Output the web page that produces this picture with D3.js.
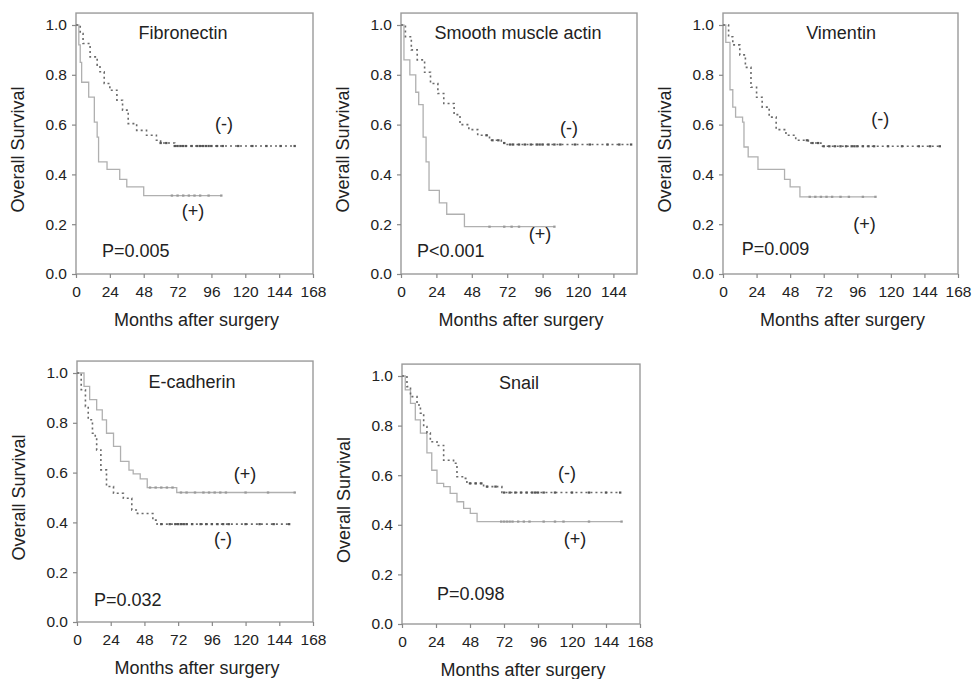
<!DOCTYPE html>
<html><head><meta charset="utf-8">
<script src="https://cdn.jsdelivr.net/npm/d3@7"></script>
<style>
body{margin:0;background:#fff}
text{font-family:"Liberation Sans",Arial,sans-serif;fill:#222}
</style></head>
<body><svg id="chart" width="974" height="679"></svg>
<script>
// ---------- data ----------
const markerNames = ["Fibronectin","Smooth muscle actin","Vimentin","E-cadherin","Snail"];
const pValues = ["P=0.005","P<0.001","P=0.009","P=0.032","P=0.098"];
const xTicksFull = [0,24,48,72,96,120,144,168];
const xTicksSMA = [0,24,48,72,96,120,144];
const yTicks = [0,0.2,0.4,0.6,0.8,1.0];
const xAxisTitle = "Months after surgery";
const yAxisTitle = "Overall Survival";
const groupNeg = "(-)", groupPos = "(+)";

// Fibronectin
const fnNegT = [0,3,5,10,15,17,20,24,29,33,37,43,50,57,60,70];
const fnNegS = [1,0.966,0.926,0.872,0.839,0.812,0.765,0.738,0.698,0.658,0.604,0.577,0.557,0.537,0.526,0.514];
const fnNegEnd = 155;
const fnNegC = [60,64,70,72,74,76,78,82,86,88,90,92,94,96,100,104,115,125,135,145,155];
const fnPosT = [0,2,3,4,9,13,15,16,22,31,36,48];
const fnPosS = [1,0.92,0.85,0.77,0.71,0.61,0.55,0.45,0.42,0.38,0.35,0.315];
const fnPosEnd = 103;
const fnPosC = [68,72,76,80,84,88,94,103];
// Smooth muscle actin
const smaNegT = [0,3,7,11,16,20,25,29,36,40,46,52,60,68,72];
const smaNegS = [1,0.953,0.9,0.86,0.81,0.765,0.725,0.685,0.64,0.6,0.58,0.557,0.537,0.526,0.52];
const smaNegEnd = 156;
const smaNegC = [58,62,66,70,74,76,80,84,88,92,94,96,100,104,108,118,128,140,148,156];
const smaPosT = [0,2,6,10,12,15,17,19,26,31,43];
const smaPosS = [1,0.86,0.8,0.73,0.68,0.55,0.45,0.336,0.286,0.24,0.19];
const smaPosEnd = 104;
const smaPosC = [60,70,75,80,104];
// Vimentin
const vimNegT = [0,4,7,12,16,20,24,28,33,38,45,52,61,70];
const vimNegS = [1,0.953,0.92,0.88,0.83,0.75,0.71,0.67,0.63,0.58,0.557,0.537,0.526,0.513];
const vimNegEnd = 155;
const vimNegC = [60,64,68,72,76,80,84,88,92,94,96,100,104,108,118,128,140,148,155];
const vimPosT = [0,2,5,7,9,14,15,18,25,44,48,55];
const vimPosS = [1,0.93,0.74,0.67,0.63,0.61,0.51,0.47,0.42,0.38,0.35,0.31];
const vimPosEnd = 109;
const vimPosC = [62,66,70,74,78,84,90,100,109];
// E-cadherin
const ecPosT = [0,5,9,14,18,21,26,31,37,40,45,50,71];
const ecPosS = [1,0.946,0.893,0.852,0.812,0.758,0.705,0.645,0.61,0.595,0.575,0.54,0.52];
const ecPosEnd = 155;
const ecPosC = [52,56,60,64,68,74,78,84,90,94,98,102,106,120,136,155];
const ecNegT = [0,3,6,8,11,13,14,17,21,26,33,39,43,54,57];
const ecNegS = [1,0.933,0.866,0.812,0.758,0.738,0.691,0.611,0.544,0.517,0.497,0.45,0.436,0.409,0.393];
const ecNegEnd = 151;
const ecNegC = [60,66,70,72,74,76,78,82,88,92,96,100,104,108,120,130,140,151];
// Snail
const snNegT = [0,3.5,6,10.6,13,15.3,17.6,20,24.7,29.4,36.4,38.8,43.5,45.8,57.6,70.5];
const snNegS = [1,0.957,0.917,0.883,0.85,0.796,0.77,0.735,0.72,0.66,0.648,0.594,0.587,0.567,0.554,0.53];
const snNegEnd = 154;
const snNegC = [48,52,56,60,66,72,76,80,84,88,92,94,96,100,108,120,132,144,154];
const snPosT = [0,2.3,6,9.4,13,17.6,21,24.7,29.4,34,38.8,43.5,48.2,53];
const snPosS = [1,0.944,0.89,0.823,0.77,0.69,0.62,0.567,0.554,0.527,0.493,0.466,0.446,0.413];
const snPosEnd = 155;
const snPosC = [70,72,74,76,78,82,86,90,100,108,114,132,155];

// ---------- layout (pixels) ----------
const layout = [
  {left:76, right:313, xMax:168, ticks:xTicksFull, y0:274, y1:25},
  {left:401, right:637, xMax:160, ticks:xTicksSMA, y0:274, y1:25},
  {left:723, right:958, xMax:168, ticks:xTicksFull, y0:274, y1:25},
  {left:77, right:313, xMax:168, ticks:xTicksFull, y0:622, y1:373},
  {left:402, right:640, xMax:168, ticks:xTicksFull, y0:624, y1:376}
];
// annotation anchors in data units [months, survival]
const titleAt = [[75.8,0.968],[79.3,0.968],[84.4,0.968],[81.9,0.964],[82.6,0.972]];
const negLabelAt = [[104.9,0.605],[113.9,0.589],[112.5,0.625],[103.9,0.333],[116.5,0.609]];
const posLabelAt = [[82.9,0.254],[94.2,0.161],[101.2,0.202],[119.6,0.594],[122.1,0.343]];
const pAt = [[18.4,0.093],[10.8,0.093],[13.4,0.101],[12.1,0.088],[24.7,0.121]];

const series = [
  {neg:[fnNegT,fnNegS,fnNegEnd,fnNegC], pos:[fnPosT,fnPosS,fnPosEnd,fnPosC]},
  {neg:[smaNegT,smaNegS,smaNegEnd,smaNegC], pos:[smaPosT,smaPosS,smaPosEnd,smaPosC]},
  {neg:[vimNegT,vimNegS,vimNegEnd,vimNegC], pos:[vimPosT,vimPosS,vimPosEnd,vimPosC]},
  {neg:[ecNegT,ecNegS,ecNegEnd,ecNegC], pos:[ecPosT,ecPosS,ecPosEnd,ecPosC]},
  {neg:[snNegT,snNegS,snNegEnd,snNegC], pos:[snPosT,snPosS,snPosEnd,snPosC]}
];

const svg = d3.select("#chart");
const FS = 18;
const TFS = 15.5;

function survAt(T,S,t){ let v=S[0]; for(let i=0;i<T.length;i++){ if(T[i]<=t) v=S[i]; } return v; }

layout.forEach((L,i)=>{
  const x = d3.scaleLinear().domain([0,L.xMax]).range([L.left,L.right]);
  const y = d3.scaleLinear().domain([0,1]).range([L.y0,L.y1]);
  const g = svg.append("g");
  const top = y(1.048);

  // box
  g.append("rect").attr("x",L.left).attr("y",top).attr("width",L.right-L.left).attr("height",L.y0-top)
    .attr("fill","none").attr("stroke","#9a9a9a").attr("stroke-width",1.4);

  // axes
  const xa = g.append("g").attr("transform",`translate(0,${L.y0})`)
    .call(d3.axisBottom(x).tickValues(L.ticks).tickFormat(d3.format("d")).tickSize(4).tickSizeOuter(0).tickPadding(8));
  const ya = g.append("g").attr("transform",`translate(${L.left},0)`)
    .call(d3.axisLeft(y).tickValues(yTicks).tickFormat(d3.format(".1f")).tickSize(4).tickSizeOuter(0).tickPadding(5));
  [xa,ya].forEach(a=>{
    a.select(".domain").remove();
    a.selectAll(".tick line").attr("stroke","#888").attr("stroke-width",1.2);
    a.selectAll(".tick text").attr("font-size",TFS).attr("font-family","DejaVu Sans, sans-serif").attr("fill","#222");
  });

  // axis titles
  g.append("text").attr("x",(L.left+L.right)/2+2).attr("y",L.y0+51.5).attr("text-anchor","middle")
    .attr("font-size",FS).text(xAxisTitle);
  g.append("text").attr("transform",`translate(${L.left-52},${(L.y0+L.y1)/2}) rotate(-90)`)
    .attr("text-anchor","middle").attr("font-size",FS).text(yAxisTitle);

  // curves
  const line = d3.line().x(d=>x(d[0])).y(d=>y(d[1])).curve(d3.curveStepAfter);
  const draw = (sr, dotted)=>{
    const [T,S,end,C] = sr;
    const pts = T.map((t,k)=>[t,S[k]]);
    pts.push([end,S[S.length-1]]);
    g.append("path").attr("d",line(pts)).attr("fill","none")
      .attr("stroke", dotted ? "#6a6a6a" : "#b0b0b0")
      .attr("stroke-width", dotted ? 1.6 : 1.3)
      .attr("stroke-dasharray", dotted ? "2,3" : null);
    g.selectAll(null).data(C).enter().append("line")
      .attr("x1",d=>x(d)-1.2).attr("x2",d=>x(d)+1.2)
      .attr("y1",d=>y(survAt(T,S,d))).attr("y2",d=>y(survAt(T,S,d)))
      .attr("stroke", dotted ? "#555" : "#999").attr("stroke-width",2.2);
  };
  draw(series[i].pos,false);
  draw(series[i].neg,true);

  // annotations
  g.append("text").attr("x",x(titleAt[i][0])).attr("y",y(titleAt[i][1])).attr("dy","0.35em")
    .attr("text-anchor","middle").attr("font-size",FS).text(markerNames[i]);
  g.append("text").attr("x",x(negLabelAt[i][0])).attr("y",y(negLabelAt[i][1])).attr("dy","0.35em")
    .attr("text-anchor","middle").attr("font-size",FS).text(groupNeg);
  g.append("text").attr("x",x(posLabelAt[i][0])).attr("y",y(posLabelAt[i][1])).attr("dy","0.35em")
    .attr("text-anchor","middle").attr("font-size",FS).text(groupPos);
  g.append("text").attr("x",x(pAt[i][0])).attr("y",y(pAt[i][1])).attr("dy","0.35em")
    .attr("text-anchor","start").attr("font-size",FS).text(pValues[i]);
});
</script></body></html>
